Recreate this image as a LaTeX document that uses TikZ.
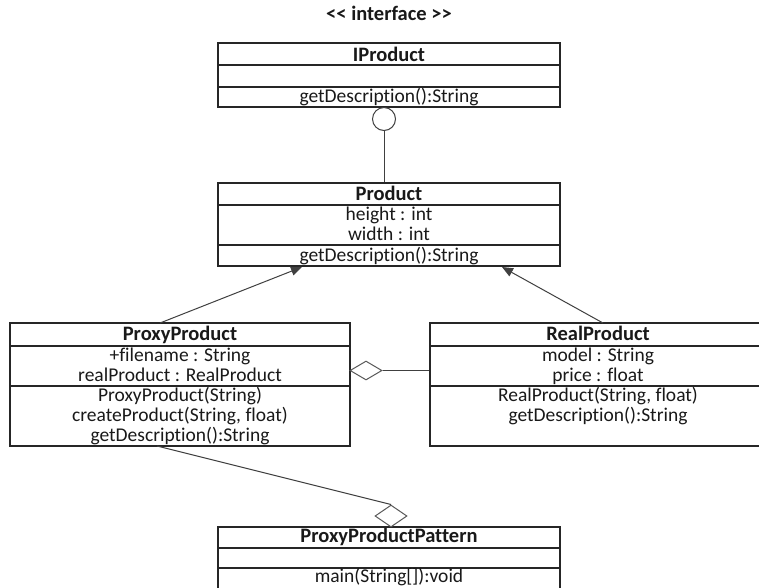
\documentclass[tikz,border=0pt]{standalone}
\usepackage{fontspec}
\setmainfont[Ligatures={NoCommon}]{Carlito}
\usetikzlibrary{arrows.meta,shapes.geometric,calc}
\begin{document}
\begin{tikzpicture}[x=1pt,y=-1pt,
  cls/.style={draw=black!85, line width=1.3pt, inner sep=0pt},
  sep/.style={draw=black!85, line width=1.3pt},
  txt/.style={anchor=base, inner sep=0pt, font=\fontsize{19.5}{20}\selectfont, text=black!90},
  ttl/.style={txt, font=\fontsize{20.5}{20}\selectfont\bfseries},
  link/.style={draw=black!75, line width=1pt},
  gen/.style={link, -{Triangle[length=11pt,width=9pt]}},
  agg/.style={diamond, draw=black!65, line width=1pt, fill=white, inner sep=0pt}
]
\useasboundingbox[fill=white] (0,0) rectangle (759,587);

% stereotype
\node[ttl] (stereo) at (389,20) {{<}{<} interface {>}{>}};

% IProduct
\node[cls, minimum width=342pt, minimum height=64pt] (iprod) at (389,75) {};
\draw[sep] (iprod.west |- 0,65) -- (iprod.east |- 0,65);
\draw[sep] (iprod.west |- 0,87) -- (iprod.east |- 0,87);
\node[ttl] (iprodT) at (389,61) {IProduct};
\node[txt] (iprodM) at (389,102) {getDescription():String};

% Product
\node[cls, minimum width=342pt, minimum height=83pt] (prod) at (389,224.5) {};
\draw[sep] (prod.west |- 0,205) -- (prod.east |- 0,205);
\draw[sep] (prod.west |- 0,245) -- (prod.east |- 0,245);
\node[ttl] (prodT) at (389,200) {Product};
\node[txt] (prodA1) at (389,220) {height : int};
\node[txt] (prodA2) at (389,240) {width : int};
\node[txt] (prodM) at (389,261) {getDescription():String};

% ProxyProduct
\node[cls, minimum width=340pt, minimum height=123pt] (pp) at (180,384.5) {};
\draw[sep] (pp.west |- 0,346) -- (pp.east |- 0,346);
\draw[sep] (pp.west |- 0,386) -- (pp.east |- 0,386);
\node[ttl] (ppT) at (180,340) {ProxyProduct};
\node[txt] (ppA1) at (180,361.5) {+filename : String};
\node[txt] (ppA2) at (180,381.5) {realProduct : RealProduct};
\node[txt] (ppM1) at (180,401.5) {ProxyProduct(String)};
\node[txt] (ppM2) at (180,421.5) {createProduct(String, float)};
\node[txt] (ppM3) at (180,441.5) {getDescription():String};

% RealProduct
\node[cls, minimum width=336pt, minimum height=123pt] (rp) at (598,384.5) {};
\draw[sep] (rp.west |- 0,346) -- (rp.east |- 0,346);
\draw[sep] (rp.west |- 0,386) -- (rp.east |- 0,386);
\node[ttl] (rpT) at (598,340) {RealProduct};
\node[txt] (rpA1) at (598,361.5) {model : String};
\node[txt] (rpA2) at (598,381.5) {price : float};
\node[txt] (rpM1) at (598,401.5) {RealProduct(String, float)};
\node[txt] (rpM2) at (598,421.5) {getDescription():String};

% ProxyProductPattern
\node[cls, minimum width=342pt, minimum height=80pt] (ppp) at (389,567) {};
\draw[sep] (ppp.west |- 0,548) -- (ppp.east |- 0,548);
\draw[sep] (ppp.west |- 0,568) -- (ppp.east |- 0,568);
\node[ttl] (pppT) at (389,542) {ProxyProductPattern};
\node[txt] (pppM) at (389,582) {main(String[]):void};

% interface lollipop
\node[circle, draw=black!75, line width=1pt, fill=white, minimum size=23pt, inner sep=0pt] (lol) at (384,119) {};
\draw[link] (lol.south) -- (lol.south |- prod.north);

% generalizations
\coordinate (ppTop) at (160,323);
\coordinate (rpTop) at (603,323);
\coordinate (prodL) at (302,267);
\coordinate (prodR) at (502,267);
\draw[gen] (ppTop) -- (prodL);
\draw[gen] (rpTop) -- (prodR);

% aggregation ProxyProduct <>-- RealProduct
\node[agg, minimum width=32pt, minimum height=19pt] (agg1) at (366,370.5) {};
\draw[link] (agg1.east) -- (agg1.east -| rp.west);

% aggregation ProxyProductPattern <>-- ProxyProduct
\node[agg, minimum width=32pt, minimum height=22pt] (agg2) at (391,516) {};
\coordinate (ppBot) at (157,446);
\draw[link] (ppBot) -- (agg2.north);
\end{tikzpicture}
\end{document}
